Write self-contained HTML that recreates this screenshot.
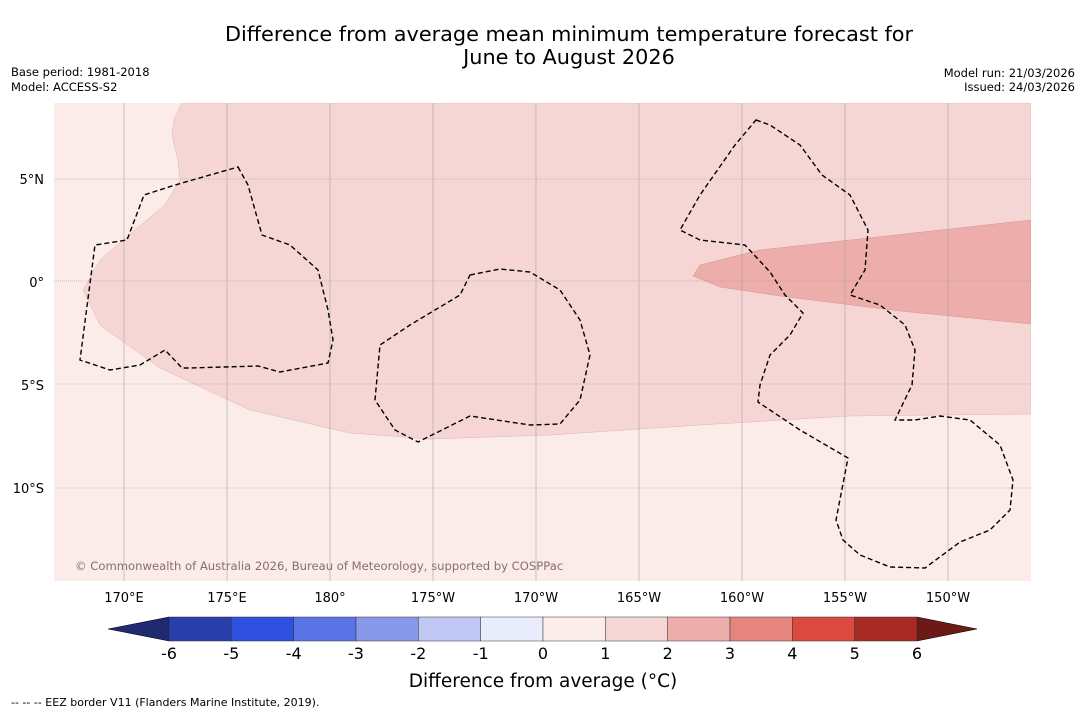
<!DOCTYPE html>
<html><head><meta charset="utf-8">
<style>
body{margin:0;background:#fff;font-family:"DejaVu Sans","Liberation Sans",sans-serif;}
svg text{font-family:"DejaVu Sans","Liberation Sans",sans-serif;}
</style></head>
<body>
<svg width="1085" height="713" xmlns="http://www.w3.org/2000/svg">
<rect width="1085" height="713" fill="#fff"/>
<text x="569" y="41" font-size="20.8" text-anchor="middle">Difference from average mean minimum temperature forecast for</text>
<text x="569" y="64" font-size="20.8" text-anchor="middle">June to August 2026</text>
<text x="11" y="76" font-size="11.5">Base period: 1981-2018</text>
<text x="11" y="91" font-size="11.5">Model: ACCESS-S2</text>
<text x="1075" y="77" font-size="11.5" text-anchor="end">Model run: 21/03/2026</text>
<text x="1075" y="91" font-size="11.5" text-anchor="end">Issued: 24/03/2026</text>

<g>
<clipPath id="mc"><rect x="54" y="103" width="977" height="478"/></clipPath>
<g clip-path="url(#mc)">
<rect x="54" y="103" width="977" height="478" fill="#fbebe9"/>
<path fill="#f5d6d4" stroke="#d9a8a6" stroke-width="0.4" d="M182,103 L174,120 L172,135 L178,160 L180,180 L165,205 L135,230 L100,260 L83,290 L100,325 L160,368 L250,410 L350,433 L430,439 L550,435 L700,425 L850,416 L1031,414 L1031,103 Z"/>
<path fill="#edaeab" stroke="#c88" stroke-width="0.4" d="M693,276 L700,265 L760,250 L1031,220 L1031,324 L900,311 L780,296 L720,287 Z"/>
<g stroke="#999" stroke-width="0.5">
<line x1="124" y1="103" x2="124" y2="581"/><line x1="227" y1="103" x2="227" y2="581"/><line x1="330" y1="103" x2="330" y2="581"/><line x1="433" y1="103" x2="433" y2="581"/><line x1="536" y1="103" x2="536" y2="581"/><line x1="639" y1="103" x2="639" y2="581"/><line x1="742" y1="103" x2="742" y2="581"/><line x1="845" y1="103" x2="845" y2="581"/><line x1="948" y1="103" x2="948" y2="581"/>
<line x1="54" y1="179" x2="1031" y2="179" stroke-dasharray="1,1"/><line x1="54" y1="281" x2="1031" y2="281" stroke-dasharray="1,1"/><line x1="54" y1="384" x2="1031" y2="384" stroke-dasharray="1,1"/><line x1="54" y1="488" x2="1031" y2="488" stroke-dasharray="1,1"/>
</g>
<g fill="none" stroke="#000" stroke-width="1.4" stroke-dasharray="5,3">
<path d="M238,167 L248,185 L262,235 L290,245 L318,270 L328,310 L333,340 L328,363 L280,372 L258,366 L190,368 L182,368 L165,350 L140,365 L110,370 L80,360 L95,245 L127,240 L144,195 L175,185 Z"/>
<path d="M470,275 L500,269 L530,272 L560,290 L580,320 L590,355 L580,400 L560,424 L530,425 L470,416 L418,442 L395,430 L375,400 L380,345 L410,325 L460,295 Z"/>
<path d="M756,120 L770,125 L800,145 L822,175 L850,195 L868,230 L865,270 L850,295 L880,305 L905,325 L915,350 L912,385 L895,420 L915,420 L940,416 L970,420 L1000,445 L1013,480 L1010,510 L990,530 L960,542 L925,568 L890,567 L860,555 L843,540 L836,520 L848,458 L800,430 L758,402 L760,385 L770,355 L790,335 L803,313 L785,295 L770,272 L745,245 L700,240 L680,230 L700,195 L735,145 Z"/>
</g>
<text x="75" y="570" font-size="11.6" fill="#8a6e6c">© Commonwealth of Australia 2026, Bureau of Meteorology, supported by COSPPac</text>
</g>
</g>

<g font-size="13" text-anchor="middle" id="xl"></g>
<g font-size="13" text-anchor="end" id="yl"></g>

<g id="cb"></g>
<text x="543" y="687" font-size="18.5" text-anchor="middle">Difference from average (°C)</text>
<text x="11" y="706" font-size="11">--  --  -- EEZ border V11 (Flanders Marine Institute, 2019).</text>
</svg>
<script>
const lonLabels=["170°E","175°E","180°","175°W","170°W","165°W","160°W","155°W","150°W"];
const latLabels=["5°N","0°","5°S","10°S"];
const cbTicks=[-6,-5,-4,-3,-2,-1,0,1,2,3,4,5,6];
const cbColors=["#283ea8","#2f4fdf","#5a74e6","#8898ea","#c1c8f4","#e9ecfb","#fcecea","#f5d6d4","#edaeab","#e6847e","#da4a40","#a82a24"];
const NS="http://www.w3.org/2000/svg";
const xl=document.getElementById('xl'),yl=document.getElementById('yl'),cb=document.getElementById('cb');
lonLabels.forEach((l,i)=>{const t=document.createElementNS(NS,'text');t.setAttribute('x',124+i*103);t.setAttribute('y',602);t.textContent=l;


xl.appendChild(t);});
latLabels.forEach((l,i)=>{const t=document.createElementNS(NS,'text');t.setAttribute('x',44);t.setAttribute('y',184+i*103);t.textContent=l;


yl.appendChild(t);});
const x0=169,x1=917,yT=617,yB=641;
const sx=v=>x0+(v-cbTicks[0])/(cbTicks[cbTicks.length-1]-cbTicks[0])*(x1-x0);
const lo=document.createElementNS(NS,'polygon');lo.setAttribute('points',`${x0},${yT} 108,${(yT+yB)/2} ${x0},${yB}`);lo.setAttribute('fill','#1f2a70');lo.setAttribute('stroke','#000');lo.setAttribute('stroke-width','0.5');


cb.appendChild(lo);
const hi=document.createElementNS(NS,'polygon');hi.setAttribute('points',`${x1},${yT} 977,${(yT+yB)/2} ${x1},${yB}`);hi.setAttribute('fill','#6b1a16');hi.setAttribute('stroke','#000');hi.setAttribute('stroke-width','0.5');


cb.appendChild(hi);
cbColors.forEach((c,i)=>{const r=document.createElementNS(NS,'rect');const a=sx(cbTicks[i]),b=sx(cbTicks[i+1]);
r.setAttribute('x',a);r.setAttribute('y',yT);r.setAttribute('width',b-a);r.setAttribute('height',yB-yT);r.setAttribute('fill',c);r.setAttribute('stroke','#333');r.setAttribute('stroke-width','0.5');


cb.appendChild(r);});
cbTicks.forEach(v=>{const t=document.createElementNS(NS,'text');t.setAttribute('x',sx(v));t.setAttribute('y',659);t.setAttribute('font-size','16');t.setAttribute('text-anchor','middle');t.textContent=v;


cb.appendChild(t);});
</script>
</body></html>
